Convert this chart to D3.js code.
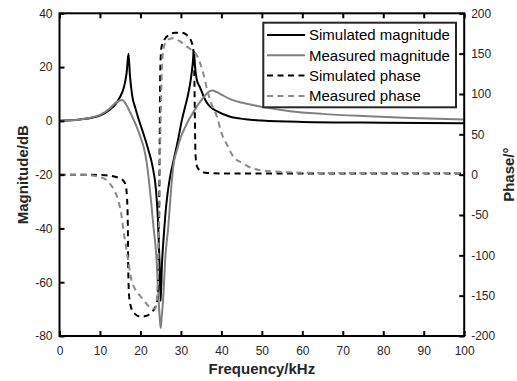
<!DOCTYPE html>
<html><head><meta charset="utf-8">
<script src="https://cdn.jsdelivr.net/npm/d3@7"></script>
<style>body{margin:0;background:#fff}svg{display:block}</style>
</head><body>
<script>
// Frequency (kHz) / value pairs
const simMag = [[0,0],[5,0.5],[10,2],[12.5,4.2],[14,6.5],[15,9],[16,13],[16.6,18],[17.05,25],[17.4,17],[18,9],[18.7,5],[19.9,-1],[21,-6],[22,-11],[23,-17],[23.8,-25],[24.3,-36],[24.7,-52],[25,-67],[25.3,-54],[25.8,-42],[26.4,-31],[27.3,-21],[28.3,-14],[29.3,-7],[30.2,0],[31,5],[31.8,10],[32.5,16],[32.9,21],[33.2,25.8],[33.5,20],[33.9,15.5],[34.7,12.5],[35.5,9.5],[36.3,7],[37.2,5.3],[39,3.5],[42,1.6],[46,0.6],[50,0.1],[60,-0.4],[80,-0.7],[100,-0.9]];
const measMag = [[0,0],[5,0.5],[10,2.2],[12.5,4.7],[14.1,7],[15.5,7.8],[16.5,6],[17.5,3],[19,-2],[20,-6],[21,-11],[21.5,-15],[22.3,-25],[23.2,-39],[24,-52],[24.4,-64],[24.8,-74],[25.0,-77],[25.2,-74],[25.7,-64],[26.1,-52],[26.9,-39],[27.5,-27],[28.1,-17],[29,-11],[30,-6],[31,-2.5],[32,0.5],[33,3],[34,5.5],[35,7.5],[36,9.5],[37,11],[37.8,11.3],[39,10.6],[40,9.8],[42,8.2],[45,6.8],[50,5.2],[57,3.6],[65,2.6],[75,1.8],[85,1.2],[100,0.5]];
const simPhase = [[0,0],[5,0],[10,-0.5],[12,-1],[14,-3],[15.5,-6],[16.3,-12],[16.7,-30],[16.9,-70],[17.0,-120],[17.2,-150],[17.6,-163],[18.5,-172],[20,-176],[21.5,-175],[22.8,-170],[23.6,-165],[24.1,-156],[24.4,-130],[24.6,-60],[24.75,40],[24.9,130],[25.2,158],[26,168],[27,173],[28.5,176],[30,176],[31.5,173],[32.5,166],[33,157],[33.3,130],[33.45,70],[33.6,25],[34,10],[35,4],[36,2.5],[40,1.5],[60,1.5],[100,1.5]];
const measPhase = [[0,0],[5,0],[8,-1],[10,-3],[11.7,-7],[13,-15],[14.5,-32],[15.3,-50],[15.8,-69],[16.6,-94],[17.8,-131],[18.8,-143],[19.9,-150],[21.5,-160],[22.8,-166],[23.6,-166],[24.0,-160],[24.3,-130],[24.6,-60],[24.9,40],[25.2,115],[25.5,148],[26.1,163],[27,168],[28.1,169],[29.5,166],[31.4,159],[32.5,155],[33.9,148],[35.5,126],[36.5,105],[37.5,88],[38.9,72],[40,52],[41.3,38],[43,22],[45.4,14],[47.5,8],[49.6,5.6],[54.5,3.5],[60,2.5],[70,2],[100,2]];
const xTicks = [0,10,20,30,40,50,60,70,80,90,100];
const magTicks = [-80,-60,-40,-20,0,20,40];
const phaseTicks = [-200,-150,-100,-50,0,50,100,150,200];
const legendLabels = ["Simulated magnitude","Measured magnitude","Simulated phase","Measured phase"];

const W = 517, H = 381;
const L = 59.5, R = 464.2, T = 13.3, B = 336;
const svg = d3.select("body").append("svg").attr("width", W).attr("height", H);
const x = d3.scaleLinear().domain([0,100]).range([L,R]);
const yM = d3.scaleLinear().domain([-80,40]).range([B,T]);
const yP = d3.scaleLinear().domain([-200,200]).range([B,T]);
const font = "Liberation Sans, Arial, sans-serif";
const txt = "#262626";
const fmt = d => String(d);

svg.append("defs").append("clipPath").attr("id","clip")
  .append("rect").attr("x",L).attr("y",T).attr("width",R-L).attr("height",B-T);

const gPlot = svg.append("g").attr("clip-path","url(#clip)");
const lineM = d3.line().x(d=>x(d[0])).y(d=>yM(d[1])).curve(d3.curveMonotoneX);
const lineP = d3.line().x(d=>x(d[0])).y(d=>yP(d[1])).curve(d3.curveMonotoneX);
const series = [
  {data: simMag, gen: lineM, color: "#000", dash: null},
  {data: measMag, gen: lineM, color: "#808080", dash: null},
  {data: simPhase, gen: lineP, color: "#000", dash: "6,4.5"},
  {data: measPhase, gen: lineP, color: "#8a8a8a", dash: "6,4.5"}
];
series.forEach(s => {
  gPlot.append("path").attr("d", s.gen(s.data)).attr("fill","none")
    .attr("stroke", s.color).attr("stroke-width", 2)
    .attr("stroke-dasharray", s.dash);
});

// Axes
function styleAxis(g){
  g.select(".domain").remove();
  g.selectAll(".tick line").attr("stroke","#000").attr("stroke-width",2);
  g.selectAll(".tick text").attr("fill",txt).style("font-family",font).style("font-size","12px");
}
const ax = svg.append("g").attr("transform",`translate(0,${B})`)
  .call(d3.axisBottom(x).tickValues(xTicks).tickSize(-5).tickPadding(10).tickFormat(fmt));
styleAxis(ax);
const axTop = svg.append("g").attr("transform",`translate(0,${T})`)
  .call(d3.axisTop(x).tickValues(xTicks).tickSize(-5).tickFormat(""));
styleAxis(axTop);
const ayL = svg.append("g").attr("transform",`translate(${L},0)`)
  .call(d3.axisLeft(yM).tickValues(magTicks).tickSize(-5).tickPadding(7).tickFormat(fmt));
styleAxis(ayL);
const ayR = svg.append("g").attr("transform",`translate(${R},0)`)
  .call(d3.axisRight(yP).tickValues(phaseTicks).tickSize(-5).tickPadding(7).tickFormat(fmt));
styleAxis(ayR);
svg.append("rect").attr("x",L).attr("y",T).attr("width",R-L).attr("height",B-T)
  .attr("fill","none").attr("stroke","#000").attr("stroke-width",2);

// Titles
svg.append("text").attr("x",(L+R)/2).attr("y",374).attr("text-anchor","middle")
  .style("font-family",font).style("font-size","15px").style("font-weight","bold").attr("fill",txt)
  .text("Frequency/kHz");
svg.append("text").attr("transform",`translate(28,${(T+B)/2}) rotate(-90)`).attr("text-anchor","middle")
  .style("font-family",font).style("font-size","15px").style("font-weight","bold").attr("fill",txt)
  .text("Magnitude/dB");
svg.append("text").attr("transform",`translate(514,${(T+B)/2}) rotate(-90)`).attr("text-anchor","middle")
  .style("font-family",font).style("font-size","15px").style("font-weight","bold").attr("fill",txt)
  .text("Phase/°");

// Legend
const lg = svg.append("g");
lg.append("rect").attr("x",263.3).attr("y",22.7).attr("width",192.7).attr("height",84.6)
  .attr("fill","#fff").attr("stroke","#262626").attr("stroke-width",2);
const rowY = [35, 55.3, 75.6, 96];
legendLabels.forEach((lab,i) => {
  const s = series[i];
  lg.append("line").attr("x1",267).attr("x2",305).attr("y1",rowY[i]).attr("y2",rowY[i])
    .attr("stroke",s.color).attr("stroke-width",2).attr("stroke-dasharray",s.dash);
  lg.append("text").attr("x",309).attr("y",rowY[i]).attr("dy","0.36em")
    .style("font-family",font).style("font-size","15px").attr("fill","#000").text(lab);
});
</script>
</body></html>
